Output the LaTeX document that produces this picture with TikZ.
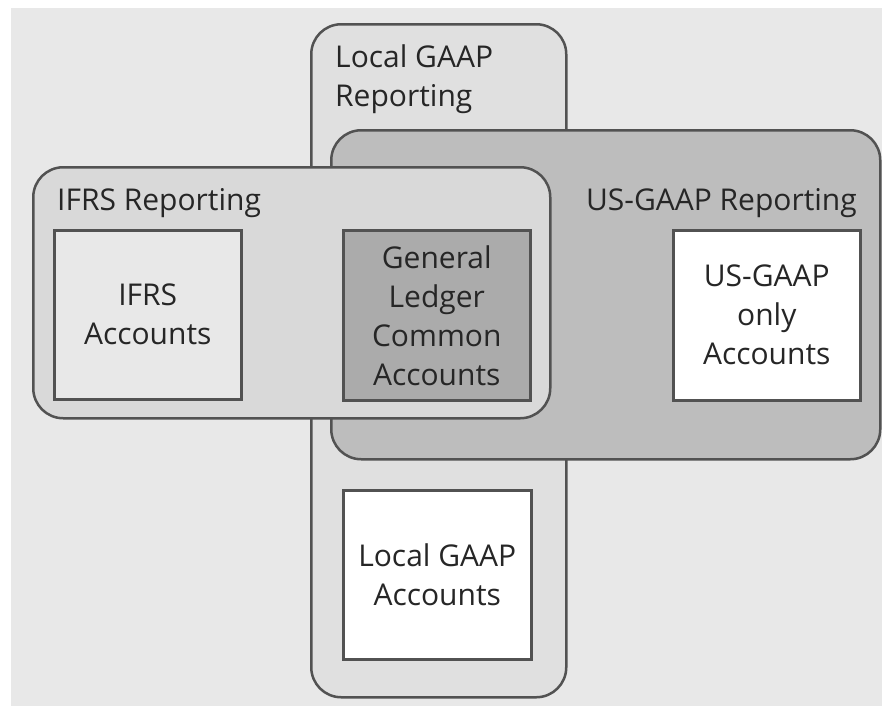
\documentclass[tikz,border=0pt]{standalone}
\usepackage{fontspec}
\setmainfont{Open Sans}
\begin{document}
\begin{tikzpicture}[x=1pt,y=-1pt,
  every node/.style={font=\fontsize{30}{39}\selectfont, text=black!85},
  area/.style={draw=black!68, line width=2.5pt, rounded corners=30pt, anchor=north west, inner sep=0pt},
  acct/.style={draw=black!68, line width=2.5pt, anchor=north west, inner sep=0pt, align=center},
  title/.style={inner sep=0pt}]
  % canvas
  \useasboundingbox (0,0) rectangle (882,707);
  \fill[white] (0,0) rectangle (882,707);
  \fill[black!9] (11,8) rectangle (882,706);

  % reporting areas, back to front
  \node[area, fill=black!12, minimum width=255pt, minimum height=673pt] (localarea) at (310,23) {};
  \node[area, fill=black!26, minimum width=549pt, minimum height=329pt] (usarea) at (330,129) {};
  \node[area, fill=black!15, minimum width=517pt, minimum height=251pt] (ifrsarea) at (32,166) {};

  % area titles
  \node[title, anchor=north west, align=left] (localtitle) at (335,45) {Local GAAP\\Reporting};
  \node[title, anchor=base west] (ifrstitle) at (57,210) {IFRS Reporting};
  \node[title, anchor=base east] (ustitle) at (857,210) {US-GAAP Reporting};

  % account groups
  \node[acct, fill=black!9, minimum width=187pt, minimum height=169pt] (ifrsacc) at (53,229) {IFRS\\Accounts};
  \node[acct, fill=black!33, minimum width=187pt, minimum height=170pt] (glacc) at (342,229) {General\\Ledger\\Common\\Accounts};
  \node[acct, fill=white, minimum width=187pt, minimum height=170pt] (usacc) at (672,229) {US-GAAP\\only\\Accounts};
  \node[acct, fill=white, minimum width=188pt, minimum height=169pt] (localacc) at (342,489) {Local GAAP\\Accounts};
\end{tikzpicture}
\end{document}
